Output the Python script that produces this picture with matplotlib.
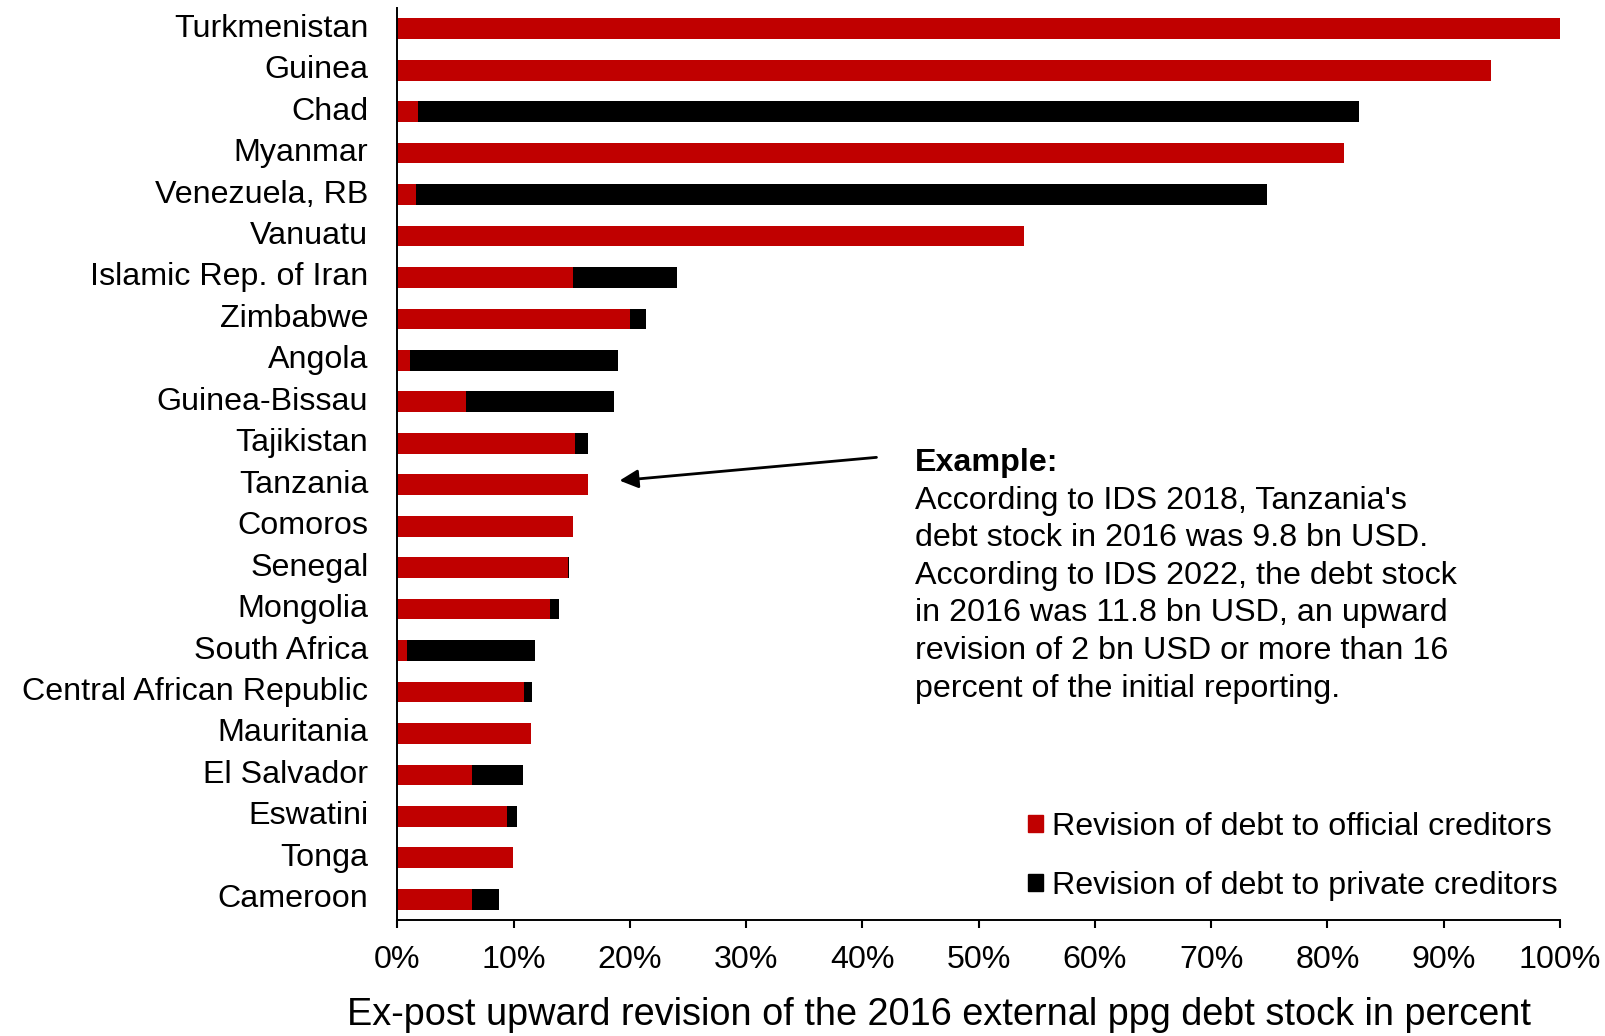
import numpy as np
import matplotlib
matplotlib.use("Agg")
import matplotlib.pyplot as plt
from matplotlib.patches import Patch
from matplotlib.ticker import FuncFormatter

plt.rcParams["font.family"] = ["Liberation Sans", "DejaVu Sans"]

# Countries, listed top to bottom
countries = [
    "Turkmenistan", "Guinea", "Chad", "Myanmar", "Venezuela, RB", "Vanuatu",
    "Islamic Rep. of Iran", "Zimbabwe", "Angola", "Guinea-Bissau", "Tajikistan",
    "Tanzania", "Comoros", "Senegal", "Mongolia", "South Africa",
    "Central African Republic", "Mauritania", "El Salvador", "Eswatini",
    "Tonga", "Cameroon",
]
# Upward revision (% of initially reported 2016 debt stock)
official = [100.0, 94.1, 1.8, 81.4, 1.6, 53.9, 15.1, 20.0, 1.1, 5.9, 15.3,
            16.4, 15.1, 14.65, 13.1, 0.85, 10.9, 11.5, 6.4, 9.4, 9.95, 6.4]
private = [0.0, 0.0, 80.9, 0.0, 73.2, 0.0, 8.9, 1.35, 17.9, 12.75, 1.1,
           0.0, 0.0, 0.1, 0.8, 11.0, 0.7, 0.0, 4.4, 0.85, 0.0, 2.3]
xticks = list(range(0, 101, 10))

note_title = "Example:"
note_lines = [
    "According to IDS 2018, Tanzania's",
    "debt stock in 2016 was 9.8 bn USD.",
    "According to IDS 2022, the debt stock",
    "in 2016 was 11.8 bn USD, an upward",
    "revision of 2 bn USD or more than 16",
    "percent of the initial reporting.",
]

red = "#C00000"
black = "#000000"
fs = 23.2

W, H = 1606, 1036
fig = plt.figure(figsize=(W / 100, H / 100), dpi=100)
ax = fig.add_axes([397.5 / W, 1 - 920 / H, (1560 - 397.5) / W, (920 - 8) / H])

n = len(countries)
y = np.arange(n)[::-1]
off = np.array(official)
priv = np.array(private)
ax.barh(y, off, height=0.5, color=red, label="Revision of debt to official creditors")
ax.barh(y, priv, left=off, height=0.5, color=black,
        label="Revision of debt to private creditors")

ax.set_xlim(0, 100)
ax.set_ylim(-0.5, n - 0.5)
ax.set_yticks(y)
ax.set_yticklabels(countries, fontsize=fs, va="center")
ax.set_xticks(xticks)
ax.xaxis.set_major_formatter(FuncFormatter(lambda v, p: f"{v:.0f}%"))
ax.tick_params(axis="y", length=0, pad=21)
ax.tick_params(axis="x", length=5.8, width=1.5, labelsize=fs, pad=12)
for s in ["top", "right"]:
    ax.spines[s].set_visible(False)
for s in ["left", "bottom"]:
    ax.spines[s].set_linewidth(1.4)

ax.set_xlabel("Ex-post upward revision of the 2016 external ppg debt stock in percent",
              fontsize=27.3, labelpad=16)
ax.xaxis.label.set_x(0.466)

# Arrow pointing at Tanzania
tz = n - 1 - countries.index("Tanzania")
ax.annotate("", xy=(19.1, tz + 0.1), xytext=(41.2, tz + 0.66),
            arrowprops=dict(arrowstyle="-|>", color="black", lw=2,
                            mutation_scale=28, shrinkA=0, shrinkB=0))

# Explanatory note
x0 = 915 / W
fig.text(x0, 1 - 471.5 / H, note_title, fontsize=fs, weight="bold", va="baseline")
for i, line in enumerate(note_lines):
    fig.text(x0, 1 - (509 + i * 37.5) / H, line, fontsize=fs, va="baseline")

handles = [Patch(color=red), Patch(color=black)]
labels = ["Revision of debt to official creditors",
          "Revision of debt to private creditors"]
ax.legend(handles, labels, loc="lower right", bbox_to_anchor=(1558 / W, 1 - 901 / H),
          bbox_transform=fig.transFigure, frameon=False, fontsize=fs,
          handlelength=0.45, handleheight=0.45, handletextpad=0.3,
          labelspacing=0.9, borderpad=0, borderaxespad=0)

fig.savefig("out.png", dpi=100)
